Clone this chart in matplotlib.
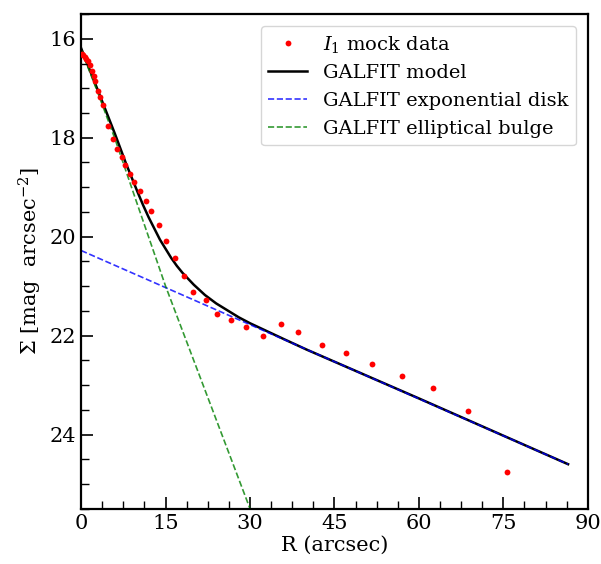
import matplotlib
matplotlib.use("Agg")
import matplotlib.pyplot as plt
from matplotlib.ticker import MultipleLocator

plt.rcParams['font.family'] = 'DejaVu Serif'
plt.rcParams['mathtext.fontset'] = 'dejavuserif'

# ------------------------------------------------------------------
# Data
# ------------------------------------------------------------------
R_data = [0.18, 0.4, 0.7, 0.95, 1.2, 1.5, 1.9, 2.2, 2.5, 3.0, 3.4, 3.9,
          4.8, 5.6, 6.4, 7.2, 7.8, 8.6, 9.4, 10.4, 11.5, 12.4, 13.8,
          15.0, 16.6, 18.2, 19.9, 22.1, 24.2, 26.6, 29.3, 32.3, 35.5,
          38.6, 42.7, 47.1, 51.7, 57.0, 62.5, 68.8, 75.7]
mu_data = [16.30, 16.33, 16.36, 16.40, 16.44, 16.52, 16.65, 16.75, 16.85,
           17.05, 17.18, 17.33, 17.76, 18.02, 18.22, 18.38, 18.55, 18.73,
           18.89, 19.07, 19.27, 19.49, 19.76, 20.08, 20.44, 20.79, 21.11,
           21.29, 21.56, 21.68, 21.82, 22.00, 21.76, 21.92, 22.18, 22.36,
           22.57, 22.81, 23.05, 23.52, 24.75]

R_model = [0.0, 3.0, 6.0, 8.0, 10.0, 11.0, 12.0, 14.0, 16.0, 17.0, 18.0,
           20.0, 22.0, 24.0, 26.0, 28.0, 30.0, 33.0, 36.0, 40.0, 60.0, 86.5]
mu_model = [16.19, 17.05, 17.92, 18.53, 19.09, 19.36, 19.61, 20.06, 20.43,
            20.59, 20.73, 20.97, 21.18, 21.35, 21.49, 21.63, 21.75, 21.91,
            22.07, 22.28, 23.27, 24.60]

R_disk = [0.0, 86.5]
mu_disk = [20.28, 24.60]

R_bulge = [0.0, 3.0, 6.0, 10.0, 15.0, 20.0, 25.0, 31.0]
mu_bulge = [16.22, 17.10, 18.02, 19.35, 21.00, 22.50, 24.00, 25.80]

# ------------------------------------------------------------------
# Plot
# ------------------------------------------------------------------
fig = plt.figure(figsize=(6.01, 5.64), dpi=100)
ax = fig.add_axes([0.135, 0.098, 0.843, 0.877])

ax.plot(R_data, mu_data, 'o', color='red', markersize=4.2, markeredgewidth=0,
        label=r'$I_1$ mock data', zorder=3)
ax.plot(R_model, mu_model, '-', color='black', linewidth=1.8,
        label='GALFIT model')
ax.plot(R_disk, mu_disk, '--', color='blue', linewidth=1.2, alpha=0.8,
        label='GALFIT exponential disk')
ax.plot(R_bulge, mu_bulge, '--', color='green', linewidth=1.2, alpha=0.8,
        label='GALFIT elliptical bulge')

ax.set_xlim(0, 90)
ax.set_ylim(25.5, 15.5)
ax.xaxis.set_major_locator(MultipleLocator(15))
ax.xaxis.set_minor_locator(MultipleLocator(3.75))
ax.yaxis.set_major_locator(MultipleLocator(2))
ax.yaxis.set_minor_locator(MultipleLocator(0.5))
ax.tick_params(which='both', direction='in', labelsize=15)
ax.tick_params(which='major', length=8.5, width=1.2)
ax.tick_params(which='minor', length=5.5, width=1.0)
for sp in ax.spines.values():
    sp.set_linewidth(1.6)

ax.set_xlabel('R (arcsec)', fontsize=15, labelpad=2)
ax.set_ylabel(r'$\Sigma$ [mag  arcsec$^{-2}$]', fontsize=15, labelpad=4)

ax.legend(loc='upper right', fontsize=14, borderaxespad=0.6)

fig.savefig('out.png', dpi=100)
plt.close(fig)
